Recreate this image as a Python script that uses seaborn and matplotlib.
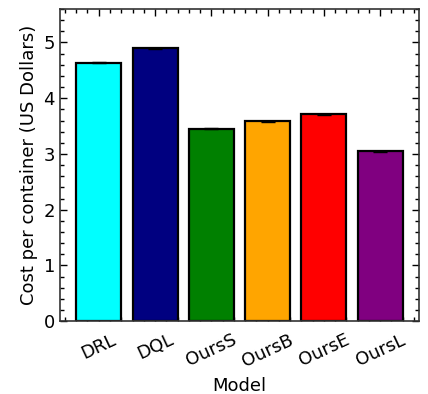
import matplotlib
matplotlib.use("Agg")
import matplotlib.pyplot as plt
import seaborn as sns
import pandas as pd
from matplotlib.ticker import AutoMinorLocator, MultipleLocator

models = ["DRL", "DQL", "OursS", "OursB", "OursE", "OursL"]
costs = [4.64, 4.90, 3.45, 3.59, 3.71, 3.05]
errors = [0.01, 0.01, 0.01, 0.01, 0.01, 0.01]
colors = ["cyan", "navy", "green", "orange", "red", "purple"]

sns.set_theme(style="ticks")
plt.rcParams["font.family"] = ["DejaVu Sans"]
plt.rcParams["text.color"] = "black"
plt.rcParams["axes.labelcolor"] = "black"
plt.rcParams["xtick.color"] = "black"
plt.rcParams["ytick.color"] = "black"

df = pd.DataFrame({"Model": models, "Cost": costs})

fig, ax = plt.subplots(figsize=(4.28, 3.94), dpi=100)
fig.subplots_adjust(left=0.140, right=0.979, top=0.977, bottom=0.185)

sns.barplot(data=df, x="Model", y="Cost", hue="Model", palette=colors,
            legend=False, width=0.8, edgecolor="black", linewidth=1.6,
            errorbar=None, saturation=1, ax=ax)
ax.errorbar(range(len(models)), costs, yerr=errors, fmt="none",
            ecolor="black", capsize=5, elinewidth=1, capthick=1)

ax.set_xlim(-0.69, 5.69)
ax.set_ylim(0, 5.6)
ax.yaxis.set_major_locator(MultipleLocator(1))
ax.yaxis.set_minor_locator(AutoMinorLocator(5))
ax.xaxis.set_minor_locator(AutoMinorLocator(5))
ax.tick_params(which="both", direction="in", top=True, right=True,
               labelsize=13, colors="black")
ax.tick_params(which="major", length=5, width=1)
ax.tick_params(which="minor", length=3, width=1)
ax.tick_params(axis="x", which="major", pad=7)
for s in ax.spines.values():
    s.set_linewidth(1.2)
    s.set_color("#333333")
plt.setp(ax.get_xticklabels(), rotation=25)
ax.set_xlabel("Model", fontsize=13, labelpad=5)
ax.set_ylabel("Cost per container (US Dollars)", fontsize=13)

fig.savefig("out.png", dpi=100)
